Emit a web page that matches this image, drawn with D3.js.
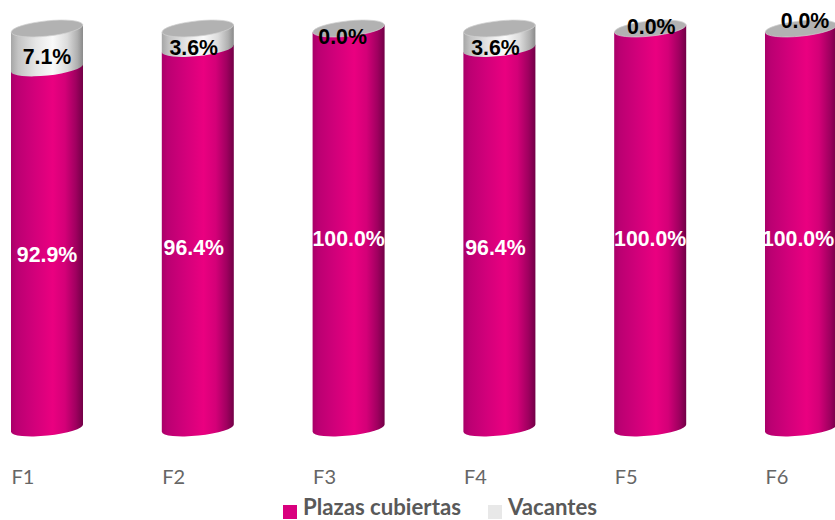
<!DOCTYPE html>
<html><head><meta charset="utf-8">
<script src="https://cdn.jsdelivr.net/npm/d3@7/dist/d3.min.js"></script>
<style>html,body{margin:0;padding:0;background:#fff;overflow:hidden}svg{display:block}</style>
</head><body><svg id="c" width="835" height="520"></svg>
<script>
const categories = ["F1","F2","F3","F4","F5","F6"];
const cubiertas = [92.9,96.4,100,96.4,100,100];
const vacantes = [7.1,3.6,0,3.6,0,0];
const seriesNames = ["Plazas cubiertas","Vacantes"];

// layout (kept apart from the data)
const axisMin = 28, yBase = 428, yTop = 28.5;
const tilt = -6, ry = 7.6;
const pinkLabelDy = [7,9,10,9,10,10];
const pinkLabelDx = [0,-4,0,-4,0,-3];
const grayLabelY = [57,48,37,48,27,21];
const grayLabelDx = [0,-4,-6,-4,1,4];

const svg = d3.select("#c");
const x = d3.scaleBand().domain(categories).range([11,837]).paddingInner(0.5225).paddingOuter(0);
const y = d3.scaleLinear().domain([axisMin,100]).range([yBase,yTop]);
const bw = x.bandwidth(), rx = bw/2;
const dyEdge = rx*Math.sin(-tilt*Math.PI/180);

const defs = svg.append("defs");
function grad(id, stops){
  const g = defs.append("linearGradient").attr("id",id).attr("x1",0).attr("x2",1).attr("y1",0).attr("y2",0);
  stops.forEach(s=>g.append("stop").attr("offset",s[0]).attr("stop-color",s[1]));
}
grad("pink",[[0,"#a80068"],[0.08,"#bb0072"],[0.3,"#d0007a"],[0.58,"#ea0080"],[0.75,"#d40078"],[0.9,"#a00060"],[1,"#720046"]]);
grad("gray",[[0,"#a6a6a6"],[0.1,"#c4c4c4"],[0.35,"#e6e6e6"],[0.58,"#fafafa"],[0.78,"#dcdcdc"],[0.92,"#b0b0b0"],[1,"#8a8a8a"]]);

function seg(cx, top, bot){
  const l = cx-rx, r = cx+rx;
  return `M${l},${top+dyEdge}L${l},${bot+dyEdge}A${rx},${ry} ${tilt} 0 0 ${r},${bot-dyEdge}L${r},${top-dyEdge}Z`;
}
const g = svg.selectAll("g.bar").data(categories).join("g").attr("class","bar");
g.each(function(c,i){
  const s = d3.select(this), cx = x(c)+rx;
  const yB = y(cubiertas[i]);
  s.append("path").attr("d",seg(cx,yB,yBase)).attr("fill","url(#pink)");
  if(vacantes[i]>0) s.append("path").attr("d",seg(cx,y(100),yB)).attr("fill","url(#gray)");
  s.append("ellipse").attr("cx",cx).attr("cy",y(100)).attr("rx",rx).attr("ry",ry)
    .attr("transform",`rotate(${tilt} ${cx} ${y(100)})`).attr("fill","#b2b2b2").attr("stroke","#d0d0d0").attr("stroke-width",0.7);
});
const fmt = d3.format(".1f");
g.each(function(c,i){
  const s = d3.select(this), cx = x(c)+rx;
  const yB = y(cubiertas[i]);
  s.append("text").attr("x",cx+pinkLabelDx[i]).attr("y",(yB+yBase)/2+pinkLabelDy[i]).attr("dy","0.35em")
    .attr("text-anchor","middle").attr("font-family","Liberation Sans").attr("font-weight","bold").attr("font-size",21.3).attr("fill","#fff")
    .text(fmt(cubiertas[i])+"%");
  s.append("text").attr("x",cx+grayLabelDx[i]).attr("y",grayLabelY[i]).attr("dy","0.35em")
    .attr("text-anchor","middle").attr("font-family","Liberation Sans").attr("font-weight","bold").attr("font-size",21.3).attr("fill","#000")
    .text(fmt(vacantes[i])+"%");
  s.append("text").attr("x",x(c)+0.5).attr("y",484).attr("font-family","Lato").attr("font-size",20).attr("fill","#666").text(c);
});
// legend
const lg = svg.append("g");
const lx = [283,488], tx=[303,508], cols=["#d9007e","#e8e8e8"];
seriesNames.forEach((n,i)=>{
  lg.append("rect").attr("x",lx[i]).attr("y",505).attr("width",14).attr("height",14).attr("fill",cols[i]);
  lg.append("text").attr("x",tx[i]).attr("y",515.2).attr("font-family","Lato").attr("font-weight","bold").attr("font-size",22.2).attr("fill","#595959").text(n);
});
</script></body></html>
